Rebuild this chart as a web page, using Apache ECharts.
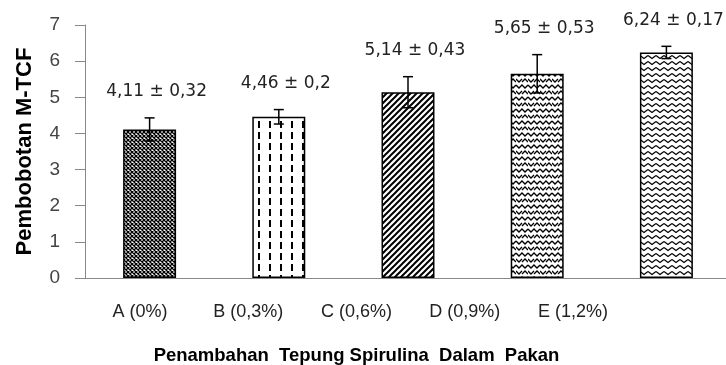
<!DOCTYPE html>
<html><head><meta charset="utf-8">
<script src="https://cdn.jsdelivr.net/npm/echarts@6/dist/echarts.min.js"></script>
<style>html,body{margin:0;padding:0;background:#fff}#c{width:726px;height:365px}</style>
</head><body><div id="c"></div>
<script>
const categories = ['A (0%)', 'B (0,3%)', 'C (0,6%)', 'D (0,9%)', 'E (1,2%)'];
const means = [4.11, 4.46, 5.14, 5.65, 6.24];
const errors = [0.32, 0.2, 0.43, 0.53, 0.17];
const yTicks = [0, 1, 2, 3, 4, 5, 6, 7];
const xTitle = 'Penambahan  Tepung Spirulina  Dalam  Pakan';
const yTitle = 'Pembobotan M-TCF';

function tile(w, h, draw) {
  const c = document.createElement('canvas');
  c.width = w; c.height = h;
  const ctx = c.getContext('2d');
  ctx.fillStyle = '#fff'; ctx.fillRect(0, 0, w, h);
  ctx.strokeStyle = '#000'; ctx.fillStyle = '#000';
  draw(ctx);
  return { image: c, repeat: 'repeat' };
}
const patterns = [
  tile(4, 4, ctx => { ctx.lineWidth = 1.3; ctx.beginPath(); ctx.moveTo(0,0); ctx.lineTo(4,4); ctx.moveTo(4,0); ctx.lineTo(0,4); ctx.stroke(); }),
  tile(11, 11, ctx => { ctx.fillRect(5, 0, 2, 7); }),
  tile(6, 6, ctx => { ctx.lineWidth = 2; ctx.beginPath(); ctx.moveTo(0,6); ctx.lineTo(6,0); ctx.moveTo(-1,1); ctx.lineTo(1,-1); ctx.moveTo(5,7); ctx.lineTo(7,5); ctx.stroke(); }),
  tile(12, 12, ctx => { ctx.lineWidth = 1.3; ctx.beginPath();
    ctx.moveTo(0,1); ctx.lineTo(3,4); ctx.lineTo(6,1); ctx.lineTo(9,4); ctx.lineTo(12,1);
    ctx.moveTo(0,7); ctx.lineTo(3,10); ctx.lineTo(6,7); ctx.moveTo(6,10); ctx.lineTo(9,7); ctx.lineTo(12,10);
    ctx.stroke(); }),
  tile(8, 6, ctx => { ctx.lineWidth = 1.2; ctx.beginPath(); ctx.moveTo(0,1.5); ctx.lineTo(4,4.5); ctx.lineTo(8,1.5); ctx.stroke(); })
];

const fmt = v => String(v).replace('.', ',');
const chart = echarts.init(document.getElementById('c'));
chart.setOption({
  animation: false,
  grid: [
    { left: 85, right: -5, top: 25, bottom: 87, outerBoundsMode: 'none' },
    { left: 86, right: 99, top: 25, bottom: 87, outerBoundsMode: 'none' }
  ],
  xAxis: [{
    type: 'category', data: categories, gridIndex: 0,
    axisLine: { lineStyle: { color: '#888', width: 1 } },
    axisTick: { show: false },
    axisLabel: { show: false }
  }, {
    type: 'category', data: categories, gridIndex: 1,
    name: xTitle, nameLocation: 'middle', nameGap: 68,
    nameTextStyle: { fontFamily: 'Liberation Sans', fontWeight: 'bold', fontSize: 18.5, color: '#000' },
    axisLine: { show: false },
    axisTick: { show: false },
    axisLabel: { fontFamily: 'Liberation Sans', fontSize: 18, color: '#222', margin: 25 }
  }],
  yAxis: [{
    type: 'value', min: 0, max: 7, interval: 1, gridIndex: 0,
    name: yTitle, nameLocation: 'middle', nameGap: 49,
    nameTextStyle: { fontFamily: 'Liberation Sans', fontWeight: 'bold', fontSize: 22, color: '#000' },
    splitLine: { show: false },
    axisLine: { show: true, lineStyle: { color: '#888', width: 1 } },
    axisTick: { show: true, length: 10, lineStyle: { color: '#888' } },
    axisLabel: { fontFamily: 'Liberation Sans', fontSize: 19, color: '#444', margin: 25,
      formatter: v => yTicks.includes(v) ? String(v) : '' }
  }, {
    type: 'value', min: 0, max: 7, gridIndex: 1, show: false
  }],
  series: [{
    type: 'bar', barWidth: '41%', xAxisIndex: 0, yAxisIndex: 0,
    data: means.map((v, i) => ({ value: v, itemStyle: { color: patterns[i] } })),
    itemStyle: { borderColor: '#000', borderWidth: 1.5 }
  }, {
    type: 'custom', xAxisIndex: 0, yAxisIndex: 0,
    data: means.map((v, i) => [i, v, errors[i]]),
    renderItem: (params, api) => {
      const i = api.value(0), v = api.value(1), e = api.value(2);
      const hi = api.coord([i, v + e]), lo = api.coord([i, v - e]);
      const x = hi[0], w = 5;
      return { type: 'group', children: [
        { type: 'line', shape: { x1: x, y1: hi[1], x2: x, y2: lo[1] }, style: { stroke: '#000', lineWidth: 1.5 } },
        { type: 'line', shape: { x1: x - w, y1: hi[1], x2: x + w, y2: hi[1] }, style: { stroke: '#000', lineWidth: 1.5 } },
        { type: 'line', shape: { x1: x - w, y1: lo[1], x2: x + w, y2: lo[1] }, style: { stroke: '#000', lineWidth: 1.5 } },
        { type: 'text', x: x + 7, y: hi[1] - 26, style: { text: fmt(v) + ' ± ' + fmt(e), align: 'center', verticalAlign: 'middle',
          font: '17px "DejaVu Sans"', fill: '#222' } }
      ] };
    },
    z: 5
  }]
});
</script></body></html>
